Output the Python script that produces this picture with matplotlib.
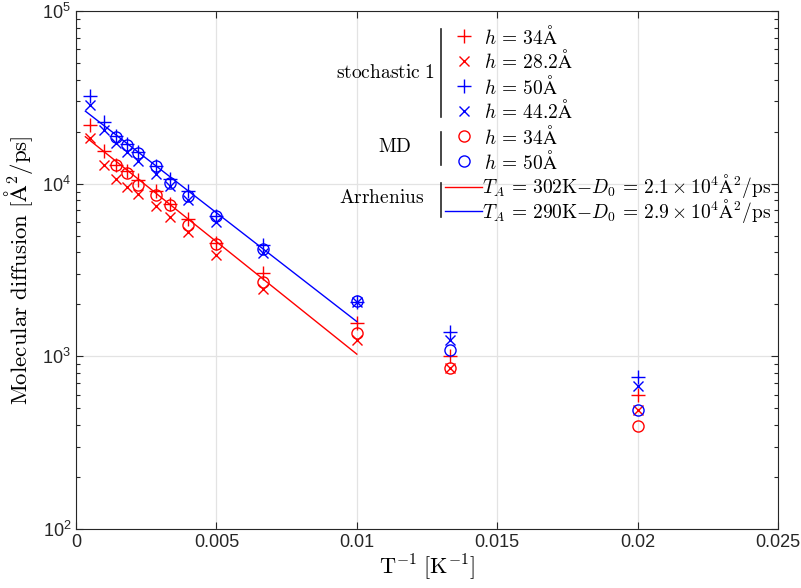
import numpy as np
import matplotlib
matplotlib.use("Agg")
import matplotlib.pyplot as plt
from matplotlib.lines import Line2D
from matplotlib.ticker import FixedLocator, FixedFormatter, LogLocator, NullFormatter

plt.rcParams["font.family"] = ["Liberation Sans", "DejaVu Sans"]

# temperatures (K) -> abscissa is 1/T
temp_all = np.array([2000, 1000, 700, 550, 450, 350, 300, 250, 200, 150, 100, 75, 50])
temp_md = temp_all[2:]

# stochastic model, molecular diffusion [A^2/ps]
stoch_h34 = [21900, 15400, 12900, 11800, 10500, 9020, 7650, 6280, 4540, 3050, 1570, 1010, 597]
stoch_h28 = [18500, 12900, 10700, 9580, 8710, 7460, 6390, 5230, 3850, 2460, 1250, 860, 488]
stoch_h50 = [32300, 22700, 19000, 16900, 15200, 12700, 10700, 9100, 6530, 4400, 2070, 1390, 758]
stoch_h44 = [28400, 20500, 17200, 15200, 13500, 11400, 9730, 8090, 5970, 3970, 2060, 1240, 673]

# MD results
md_h34 = [12800, 11500, 9860, 8550, 7570, 5790, 4500, 2700, 1370, 860, 394]
md_h50 = [18700, 16800, 15000, 12600, 10100, 8450, 6470, 4190, 2080, 1090, 488]

# Arrhenius fits (end points)
arr_x = [1 / 3000, 0.01]
arr_red = [18700, 1030]
arr_blue = [26300, 1590]

xticks = [0, 0.005, 0.01, 0.015, 0.02, 0.025]
xtick_labels = ["0", "0.005", "0.01", "0.015", "0.02", "0.025"]

W, H = 801, 588
fig = plt.figure(figsize=(W / 100, H / 100), dpi=100)
ax = fig.add_axes([76 / W, 1 - 529 / H, 702 / W, 518 / H])

inv_all = 1.0 / temp_all
inv_md = 1.0 / temp_md

ms_plus, ms_x, ms_o = 10, 7.5, 8
ax.plot(inv_all, stoch_h34, "+", color="red", ms=ms_plus, mew=1)
ax.plot(inv_all, stoch_h28, "x", color="red", ms=ms_x, mew=1)
ax.plot(inv_all, stoch_h50, "+", color="blue", ms=ms_plus, mew=1)
ax.plot(inv_all, stoch_h44, "x", color="blue", ms=ms_x, mew=1)
ax.plot(inv_md, md_h34, "o", color="red", mfc="none", ms=ms_o, mew=1)
ax.plot(inv_md, md_h50, "o", color="blue", mfc="none", ms=ms_o, mew=1)
ax.plot(arr_x, arr_red, "-", color="red", lw=1)
ax.plot(arr_x, arr_blue, "-", color="blue", lw=1)

ax.set_yscale("log")
ax.set_xlim(0, 0.025)
ax.set_ylim(1e2, 1e5)
ax.xaxis.set_major_locator(FixedLocator(xticks))
ax.xaxis.set_major_formatter(FixedFormatter(xtick_labels))
ax.yaxis.set_major_locator(LogLocator(base=10, numticks=10))
ax.yaxis.set_minor_locator(LogLocator(base=10, subs=np.arange(2, 10), numticks=10))
ax.yaxis.set_minor_formatter(NullFormatter())

ax.grid(True, which="major", color="#e3e3e3", lw=0.9)
ax.set_axisbelow(True)
ax.tick_params(which="both", direction="in", top=True, right=True,
               labelsize=13, colors="#262626", labelcolor="#262626", width=0.8)
ax.tick_params(which="major", length=5)
ax.tick_params(which="minor", length=3)
for sp in ax.spines.values():
    sp.set_color("#262626")
    sp.set_linewidth(0.8)

ax.set_xlabel(r"$\mathrm{T}^{-1}\ [\mathrm{K}^{-1}]$", fontsize=16, math_fontfamily="cm", labelpad=1)
ax.set_ylabel(r"$\mathrm{Molecular\ diffusion}\ [\mathrm{\AA}^2/\mathrm{ps}]$", fontsize=16.5,
              math_fontfamily="cm", labelpad=5)


# grouped legend, drawn by hand in figure pixels
def fp(px, py):
    return px / W, 1 - py / H


rows_y = [36, 61, 86, 111, 136, 161.5, 186.5, 211.5]
entries = [
    ("+", "red", r"$h\,=\,34\mathrm{\AA}$"),
    ("x", "red", r"$h\,=\,28.2\mathrm{\AA}$"),
    ("+", "blue", r"$h\,=\,50\mathrm{\AA}$"),
    ("x", "blue", r"$h\,=\,44.2\mathrm{\AA}$"),
    ("o", "red", r"$h\,=\,34\mathrm{\AA}$"),
    ("o", "blue", r"$h\,=\,50\mathrm{\AA}$"),
    ("-", "red", r"$T_A\,=\,302\mathrm{K}{-}D_0\,=\,2.1\times10^4\mathrm{\AA}^2/\mathrm{ps}$"),
    ("-", "blue", r"$T_A\,=\,290\mathrm{K}{-}D_0\,=\,2.9\times10^4\mathrm{\AA}^2/\mathrm{ps}$"),
]
for (mk, col, label), py in zip(entries, rows_y):
    if mk == "-":
        x0, y0 = fp(445, py)
        x1, _ = fp(482, py)
        fig.add_artist(Line2D([x0, x1], [y0, y0], color=col, lw=1, transform=fig.transFigure))
        tx, ty = fp(482, py)
    else:
        size = {"+": ms_plus, "x": ms_x, "o": ms_o}[mk]
        mx, my = fp(463.5, py)
        fig.add_artist(Line2D([mx], [my], marker=mk, color=col, ms=size, mew=1,
                              mfc="none", ls="none", transform=fig.transFigure))
        tx, ty = fp(484, py)
    fig.text(tx, ty, label, fontsize=14, math_fontfamily="cm", ha="left", va="center")

brackets = [(29, 117), (132, 165), (183, 217)]
for ya, yb in brackets:
    bx, b0 = fp(441, ya)
    _, b1 = fp(441, yb)
    fig.add_artist(Line2D([bx, bx], [b0, b1], color="#262626", lw=1.2, transform=fig.transFigure))

titles = [(r"$\mathrm{stochastic\ 1}$", 435, 73, "right"),
          (r"$\mathrm{MD}$", 395, 147, "center"),
          (r"$\mathrm{Arrhenius}$", 382, 198, "center")]
for txt, px, py, ha in titles:
    tx, ty = fp(px, py)
    fig.text(tx, ty, txt, fontsize=14, math_fontfamily="cm", ha=ha, va="center")

fig.savefig("out.png", dpi=100)
